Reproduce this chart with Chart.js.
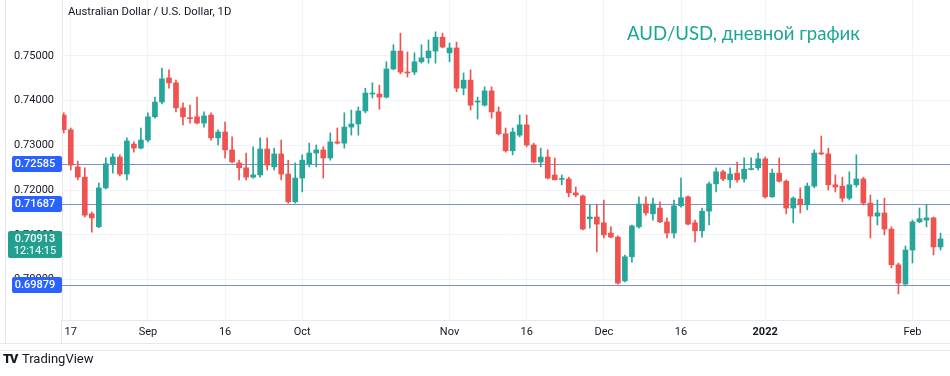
<!DOCTYPE html>
<html>
<head>
<meta charset="utf-8">
<script src="https://cdn.jsdelivr.net/npm/chart.js@4.4.1/dist/chart.umd.min.js"></script>
<style>
  html, body { margin: 0; padding: 0; background: #fff; }
  #wrap { position: relative; width: 950px; height: 376px; overflow: hidden; font-family: Roboto, "Noto Sans", sans-serif; }
  #chart { position: absolute; left: 0; top: 0; }
  .title { position: absolute; left: 68px; top: 5px; font-size: 11.3px; color: #131722; }
  .caption { position: absolute; left: 627px; top: 22px; font-size: 18.6px; color: #1ba594; font-family: Lato, "Noto Sans", sans-serif; }
  .footer { position: absolute; left: 3px; top: 351px; font-size: 13px; color: #131722; }
  .footer b { font-weight: 900; font-size: 13px; letter-spacing: -1.5px; margin-right: 5px; }
</style>
</head>
<body>
<div id="wrap">
  <canvas id="chart" width="950" height="376"></canvas>
  <div class="title">Australian Dollar / U.S. Dollar, 1D</div>
  <div class="caption">AUD/USD, дневной график</div>
  <div class="footer"><b>TV</b>TradingView</div>
</div>
<script>
// Свечи AUD/USD, дневной таймфрейм (16.08.2021 - 07.02.2022)
const openP = [
  0.7368, 0.7335, 0.7252, 0.7229, 0.7147, 0.7118, 0.7205, 0.7259, 0.7274, 0.7236,
  0.7303, 0.7294, 0.7312, 0.7364, 0.7397, 0.7451, 0.7440, 0.7384, 0.7362, 0.7364,
  0.7350, 0.7368, 0.7317, 0.7330, 0.7290, 0.7261, 0.7250, 0.7229, 0.7234, 0.7292,
  0.7252, 0.7281, 0.7236, 0.7174, 0.7227, 0.7259, 0.7283, 0.7290, 0.7272, 0.7308,
  0.7305, 0.7341, 0.7348, 0.7377, 0.7415, 0.7415, 0.7408, 0.7471, 0.7511, 0.7464,
  0.7464, 0.7487, 0.7496, 0.7511, 0.7542, 0.7507, 0.7518, 0.7428, 0.7446, 0.7397,
  0.7390, 0.7422, 0.7375, 0.7326, 0.7288, 0.7323, 0.7346, 0.7301, 0.7263, 0.7274,
  0.7234, 0.7224, 0.7225, 0.7194, 0.7187, 0.7136, 0.7140, 0.7127, 0.7104, 0.7095,
  0.6997, 0.7051, 0.7118, 0.7169, 0.7147, 0.7160, 0.7129, 0.7104, 0.7165, 0.7185,
  0.7127, 0.7109, 0.7153, 0.7214, 0.7241, 0.7223, 0.7238, 0.7225, 0.7246, 0.7250,
  0.7270, 0.7185, 0.7238, 0.7220, 0.7160, 0.7180, 0.7167, 0.7209, 0.7283, 0.7281,
  0.7212, 0.7209, 0.7182, 0.7212, 0.7225, 0.7171, 0.7142, 0.7149, 0.7113, 0.7033,
  0.6990, 0.7066, 0.7129, 0.7133, 0.7138, 0.7073
];
const highP = [
  0.7373, 0.7339, 0.7265, 0.7250, 0.7151, 0.7216, 0.7272, 0.7281, 0.7279, 0.7317,
  0.7308, 0.7339, 0.7373, 0.7408, 0.7473, 0.7469, 0.7446, 0.7395, 0.7390, 0.7408,
  0.7375, 0.7373, 0.7335, 0.7352, 0.7319, 0.7267, 0.7283, 0.7297, 0.7317, 0.7317,
  0.7294, 0.7312, 0.7267, 0.7261, 0.7279, 0.7305, 0.7301, 0.7297, 0.7328, 0.7339,
  0.7373, 0.7379, 0.7386, 0.7428, 0.7440, 0.7435, 0.7487, 0.7525, 0.7551, 0.7509,
  0.7507, 0.7525, 0.7536, 0.7554, 0.7551, 0.7529, 0.7531, 0.7462, 0.7469, 0.7408,
  0.7431, 0.7431, 0.7386, 0.7339, 0.7339, 0.7368, 0.7368, 0.7305, 0.7294, 0.7290,
  0.7272, 0.7234, 0.7229, 0.7207, 0.7189, 0.7167, 0.7167, 0.7178, 0.7118, 0.7098,
  0.7055, 0.7122, 0.7185, 0.7185, 0.7182, 0.7174, 0.7138, 0.7178, 0.7227, 0.7187,
  0.7133, 0.7160, 0.7218, 0.7250, 0.7245, 0.7250, 0.7263, 0.7272, 0.7272, 0.7283,
  0.7274, 0.7247, 0.7272, 0.7223, 0.7185, 0.7205, 0.7216, 0.7290, 0.7321, 0.7294,
  0.7234, 0.7229, 0.7241, 0.7279, 0.7229, 0.7189, 0.7178, 0.7182, 0.7118, 0.7037,
  0.7075, 0.7133, 0.7160, 0.7167, 0.7140, 0.7104
];
const lowP = [
  0.7328, 0.7245, 0.7223, 0.7140, 0.7106, 0.7116, 0.7203, 0.7238, 0.7232, 0.7223,
  0.7285, 0.7292, 0.7308, 0.7361, 0.7393, 0.7428, 0.7375, 0.7346, 0.7350, 0.7348,
  0.7341, 0.7312, 0.7301, 0.7272, 0.7261, 0.7223, 0.7223, 0.7227, 0.7229, 0.7245,
  0.7245, 0.7223, 0.7171, 0.7171, 0.7196, 0.7252, 0.7252, 0.7227, 0.7267, 0.7303,
  0.7294, 0.7323, 0.7323, 0.7373, 0.7406, 0.7381, 0.7406, 0.7469, 0.7460, 0.7453,
  0.7458, 0.7484, 0.7484, 0.7484, 0.7518, 0.7487, 0.7420, 0.7413, 0.7379, 0.7359,
  0.7388, 0.7361, 0.7323, 0.7285, 0.7279, 0.7319, 0.7297, 0.7261, 0.7252, 0.7225,
  0.7223, 0.7212, 0.7185, 0.7185, 0.7111, 0.7115, 0.7062, 0.7093, 0.7093, 0.6990,
  0.6995, 0.7039, 0.7115, 0.7144, 0.7133, 0.7127, 0.7093, 0.7093, 0.7162, 0.7122,
  0.7084, 0.7095, 0.7122, 0.7196, 0.7221, 0.7205, 0.7218, 0.7218, 0.7245, 0.7245,
  0.7182, 0.7184, 0.7218, 0.7147, 0.7127, 0.7149, 0.7156, 0.7205, 0.7279, 0.7200,
  0.7196, 0.7174, 0.7178, 0.7207, 0.7167, 0.7093, 0.7122, 0.7100, 0.7026, 0.6968,
  0.6988, 0.7037, 0.7127, 0.7118, 0.7055, 0.7066
];
const closeP = [
  0.7335, 0.7256, 0.7229, 0.7144, 0.7138, 0.7205, 0.7259, 0.7274, 0.7236, 0.7310,
  0.7294, 0.7312, 0.7364, 0.7397, 0.7449, 0.7440, 0.7384, 0.7364, 0.7360, 0.7350,
  0.7366, 0.7317, 0.7330, 0.7290, 0.7263, 0.7250, 0.7229, 0.7234, 0.7292, 0.7256,
  0.7281, 0.7236, 0.7174, 0.7227, 0.7267, 0.7283, 0.7290, 0.7272, 0.7308, 0.7305,
  0.7341, 0.7348, 0.7377, 0.7417, 0.7417, 0.7408, 0.7471, 0.7511, 0.7464, 0.7462,
  0.7487, 0.7496, 0.7511, 0.7542, 0.7520, 0.7518, 0.7428, 0.7446, 0.7390, 0.7399,
  0.7422, 0.7375, 0.7326, 0.7288, 0.7330, 0.7346, 0.7301, 0.7263, 0.7274, 0.7227,
  0.7223, 0.7226, 0.7194, 0.7189, 0.7113, 0.7140, 0.7124, 0.7100, 0.7095, 0.6992,
  0.7051, 0.7120, 0.7169, 0.7149, 0.7169, 0.7129, 0.7104, 0.7165, 0.7183, 0.7124,
  0.7109, 0.7153, 0.7214, 0.7241, 0.7225, 0.7236, 0.7223, 0.7247, 0.7248, 0.7270,
  0.7185, 0.7238, 0.7220, 0.7160, 0.7182, 0.7167, 0.7209, 0.7283, 0.7281, 0.7212,
  0.7207, 0.7182, 0.7212, 0.7225, 0.7171, 0.7142, 0.7149, 0.7113, 0.7033, 0.6992,
  0.7066, 0.7129, 0.7136, 0.7138, 0.7073, 0.7091
];

// Подписи оси времени (индекс свечи -> текст)
const tickIndex = [1, 12, 23, 34, 55, 66, 77, 88, 100, 121];
const tickText = ['17', 'Sep', '16', 'Oct', 'Nov', '16', 'Dec', '16', '2022', 'Feb'];
const yTicks = [0.70, 0.71, 0.72, 0.73, 0.74, 0.75];

// Горизонтальные уровни и текущая цена
const levels = [0.72585, 0.71687, 0.69879];
const lastPrice = 0.70913;
const countdown = '12:14:15';

const UP = '#26a69a';
const DOWN = '#ef5350';
const colors = openP.map((o, i) => closeP[i] >= o ? UP : DOWN);

const bodies = openP.map((o, i) => ({ x: i, y: [o, closeP[i]] }));
const wicks = lowP.map((l, i) => ({ x: i, y: [l, highP[i]] }));

/**
 * Уровни, метки цены на шкале и рамка оси времени
 */
const overlayPlugin = {
    id: 'overlay',
    beforeDatasetsDraw(chart) {
        const { ctx, chartArea, scales } = chart;
        ctx.save();
        ctx.strokeStyle = '#7c91c9';
        ctx.lineWidth = 1;
        levels.forEach(v => {
            const y = Math.round(scales.y.getPixelForValue(v)) + 0.5;
            ctx.beginPath();
            ctx.moveTo(chartArea.left, y);
            ctx.lineTo(chart.width, y);
            ctx.stroke();
        });
        ctx.restore();
    },
    afterDraw(chart) {
        const { ctx, chartArea, scales } = chart;
        ctx.save();
        // рамка оси времени
        ctx.strokeStyle = '#e6e8ee';
        ctx.lineWidth = 1;
        ctx.beginPath();
        ctx.moveTo(0, 343.5); ctx.lineTo(chart.width, 343.5);
        ctx.moveTo(0, 350.5); ctx.lineTo(chart.width, 350.5);
        ctx.moveTo(chartArea.left - 0.5, chartArea.bottom); ctx.lineTo(chartArea.left - 0.5, 343);
        ctx.moveTo(5.5, 0); ctx.lineTo(5.5, 343);
        ctx.stroke();

        ctx.textAlign = 'center';
        ctx.textBaseline = 'middle';
        ctx.font = '500 11px Roboto, sans-serif';

        // синие метки уровней
        levels.forEach(v => {
            const y = Math.round(scales.y.getPixelForValue(v));
            ctx.fillStyle = '#2962ff';
            ctx.beginPath();
            ctx.roundRect(12, y - 8, 50, 16, 2);
            ctx.fill();
            ctx.fillStyle = '#ffffff';
            ctx.fillText(v.toFixed(5), 35, y + 0.5);
        });

        // метка текущей цены с таймером
        const py = Math.round(scales.y.getPixelForValue(lastPrice));
        ctx.fillStyle = '#22a08f';
        ctx.beginPath();
        ctx.roundRect(8, py - 8, 54, 27, 2);
        ctx.fill();
        ctx.fillStyle = '#ffffff';
        ctx.fillText(lastPrice.toFixed(5), 35, py + 0.5);
        ctx.font = '11px Roboto, sans-serif';
        ctx.fillText(countdown, 35, py + 12);
        ctx.restore();
    }
};

document.addEventListener('DOMContentLoaded', function() {
    const ctx = document.getElementById('chart');

    new Chart(ctx, {
        type: 'bar',
        data: {
            datasets: [
                {
                    data: bodies,
                    backgroundColor: colors,
                    barThickness: 5,
                    minBarLength: 1,
                    grouped: false,
                    borderWidth: 0
                },
                {
                    data: wicks,
                    backgroundColor: colors,
                    barThickness: 1,
                    grouped: false,
                    borderWidth: 0
                }
            ]
        },
        options: {
            responsive: false,
            animation: false,
            events: [],
            layout: { padding: { top: 0, right: 0, bottom: 33, left: 0 } },
            plugins: {
                legend: { display: false },
                tooltip: { enabled: false }
            },
            scales: {
                x: {
                    type: 'linear',
                    min: -0.25,
                    max: 126.35,
                    offset: false,
                    afterFit(scale) {
                        scale.height = 23;
                        scale.paddingLeft = 0;
                        scale.paddingRight = 0;
                    },
                    afterBuildTicks(scale) {
                        scale.ticks = tickIndex.map(v => ({ value: v }));
                    },
                    grid: { color: '#f2f3f6', offset: false, drawTicks: false },
                    border: { color: '#e6e8ee' },
                    ticks: {
                        autoSkip: false,
                        maxRotation: 0,
                        padding: 6,
                        color: '#131722',
                        font: (c) => ({
                            family: 'Roboto, sans-serif',
                            size: 11,
                            weight: c.tick && c.tick.value === 100 ? 'bold' : 'normal'
                        }),
                        callback: (v) => {
                            const k = tickIndex.indexOf(v);
                            return k >= 0 ? tickText[k] : '';
                        }
                    }
                },
                y: {
                    position: 'left',
                    min: 0.69096,
                    max: 0.76252,
                    afterFit(scale) {
                        scale.width = 62;
                        scale.paddingTop = 0;
                        scale.paddingBottom = 0;
                    },
                    afterBuildTicks(scale) {
                        scale.ticks = yTicks.map(v => ({ value: v }));
                    },
                    grid: { color: '#f2f3f6', drawTicks: false },
                    border: { color: '#e6e8ee' },
                    ticks: {
                        padding: 8,
                        color: '#131722',
                        font: { family: 'Roboto, sans-serif', size: 11 },
                        callback: (v) => v.toFixed(5)
                    }
                }
            }
        },
        plugins: [overlayPlugin]
    });
});
</script>
</body>
</html>
